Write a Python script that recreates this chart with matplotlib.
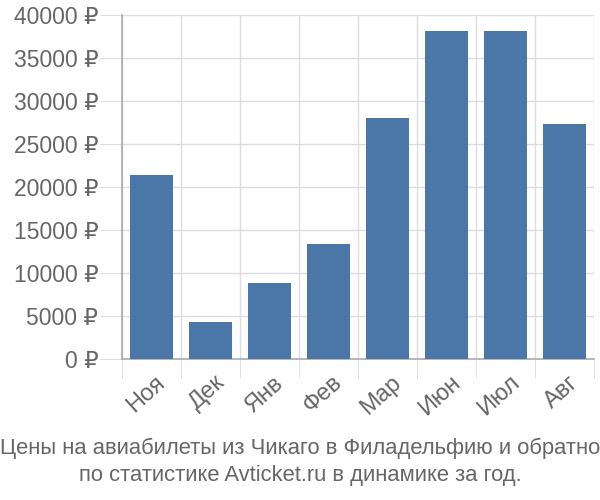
import matplotlib.pyplot as plt
import numpy as np

months = ["Ноя", "Дек", "Янв", "Фев", "Мар", "Июн", "Июл", "Авг"]
prices = [21400, 4300, 8850, 13350, 28000, 38150, 38150, 27350]
yticks = [0, 5000, 10000, 15000, 20000, 25000, 30000, 35000, 40000]
title = "Цены на авиабилеты из Чикаго в Филадельфию и обратно\nпо статистике Avticket.ru в динамике за год."

plt.rcParams['font.family'] = ['Liberation Sans', 'DejaVu Sans']
text_col = '#666666'
grid_col = '#dddddd'

fig = plt.figure(figsize=(6, 5), dpi=100)
ax = fig.add_axes([0.2033, 0.282, 0.7867, 0.688])

x = np.arange(len(months))
ax.bar(x, prices, width=0.72, color='#4a76a8', zorder=3)

ax.set_xlim(-0.5, len(months) - 0.5)
ax.set_ylim(0, 40000)

ax.set_yticks(yticks)
ax.set_yticklabels([f"{v} ₽" for v in yticks])
ax.set_xticks(x + 0.06)
ax.set_xticklabels(months, rotation=42, ha='right', rotation_mode='anchor')
ax.set_xticks(np.arange(len(months) + 1) - 0.5, minor=True)

ax.tick_params(axis='y', length=16, color=grid_col, pad=1, labelsize=16.5, labelcolor=text_col)
ax.tick_params(axis='x', which='major', length=0, pad=9, labelsize=17, labelcolor=text_col)
ax.tick_params(axis='x', which='minor', length=14, color=grid_col)

ax.grid(True, axis='y', color=grid_col, linewidth=1, zorder=0)
ax.grid(True, axis='x', which='minor', color=grid_col, linewidth=1, zorder=0)

for s in ['top', 'right']:
    ax.spines[s].set_visible(False)
ax.spines['left'].set_color('#aaaaaa')
ax.spines['bottom'].set_color('#aaaaaa')
ax.spines['left'].set_linewidth(1.2)
ax.spines['bottom'].set_linewidth(1.2)

fig.text(0.5, 0.028, title, ha='center', va='bottom', fontsize=15.8,
         color=text_col, linespacing=1.35)

fig.savefig('out.png', dpi=100)
